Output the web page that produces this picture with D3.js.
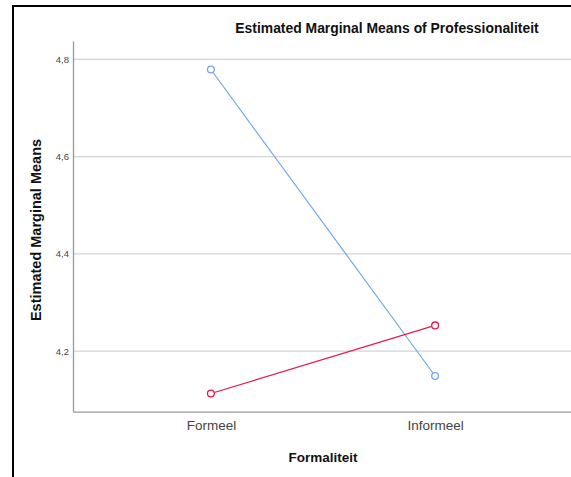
<!DOCTYPE html>
<html>
<head>
<meta charset="utf-8">
<script src="https://cdn.jsdelivr.net/npm/d3@7"></script>
<style>
  html, body { margin: 0; padding: 0; background: #fff; }
  svg { display: block; font-family: "Liberation Sans", Arial, sans-serif; }
</style>
</head>
<body>
<svg id="chart" width="571" height="477"></svg>
<script>
// Categories on the x axis
const categories = ["Formeel", "Informeel"];
// Estimated marginal means per group (two lines)
const seriesBlue = [4.779, 4.149];
const seriesRed = [4.113, 4.253];
// Y tick values and their labels (comma decimal)
const yTicks = [4.2, 4.4, 4.6, 4.8];
const yTickLabels = ["4,2", "4,4", "4,6", "4,8"];

const series = [
  { name: "blue", values: seriesBlue, color: "#74a7e8" },
  { name: "red", values: seriesRed, color: "#e6194b" }
];

const svg = d3.select("#chart");

// Outer frame
svg.append("rect")
  .attr("x", 13).attr("y", 6)
  .attr("width", 700).attr("height", 600)
  .attr("fill", "none").attr("stroke", "#000").attr("stroke-width", 2);

const plot = { left: 73, right: 573, top: 41, bottom: 411.7 };

const x = d3.scalePoint()
  .domain(categories)
  .range([plot.left, plot.right])
  .padding(0.615);

const y = d3.scaleLinear()
  .domain([4.0756, 4.8376])
  .range([plot.bottom, plot.top]);

// Gridlines
svg.append("g")
  .selectAll("line")
  .data(yTicks)
  .join("line")
  .attr("x1", plot.left).attr("x2", 571)
  .attr("y1", d => y(d)).attr("y2", d => y(d))
  .attr("stroke", "#d4d4d4").attr("stroke-width", 1.2);

// Y axis
const yAxis = d3.axisLeft(y)
  .tickValues(yTicks)
  .tickFormat((d, i) => yTickLabels[i])
  .tickSize(0)
  .tickPadding(4);
const gy = svg.append("g")
  .attr("transform", `translate(${plot.left},0)`)
  .call(yAxis);
gy.select(".domain").attr("stroke", "#9a9a9a").attr("stroke-width", 1.3);
gy.selectAll("text")
  .attr("fill", "#444").attr("font-size", 9.5);

// X axis
const xAxis = d3.axisBottom(x).tickSize(0).tickPadding(9);
const gx = svg.append("g")
  .attr("transform", `translate(0,${plot.bottom})`)
  .call(xAxis);
gx.select(".domain").attr("stroke", "#9a9a9a").attr("stroke-width", 1.3);
gx.selectAll("text")
  .attr("fill", "#444").attr("font-size", 13.5);

// Lines and markers
const line = d3.line()
  .x((d, i) => x(categories[i]))
  .y(d => y(d));

series.forEach(s => {
  svg.append("path")
    .datum(s.values)
    .attr("d", line)
    .attr("fill", "none")
    .attr("stroke", s.color)
    .attr("stroke-width", 1.2);
  svg.append("g")
    .selectAll("circle")
    .data(s.values)
    .join("circle")
    .attr("cx", (d, i) => x(categories[i]))
    .attr("cy", d => y(d))
    .attr("r", 3.4)
    .attr("fill", "#fff")
    .attr("stroke", s.color)
    .attr("stroke-width", 1.3);
});

// Title
svg.append("text")
  .attr("x", 387).attr("y", 33)
  .attr("text-anchor", "middle")
  .attr("font-size", 13.9).attr("font-weight", "bold")
  .attr("fill", "#111")
  .text("Estimated Marginal Means of Professionaliteit");

// Axis titles
svg.append("text")
  .attr("x", 323).attr("y", 462)
  .attr("text-anchor", "middle")
  .attr("font-size", 13.5).attr("font-weight", "bold")
  .attr("fill", "#111")
  .text("Formaliteit");

svg.append("text")
  .attr("transform", "translate(41,230) rotate(-90)")
  .attr("text-anchor", "middle")
  .attr("font-size", 14.5).attr("font-weight", "bold")
  .attr("fill", "#111")
  .text("Estimated Marginal Means");
</script>
</body>
</html>
